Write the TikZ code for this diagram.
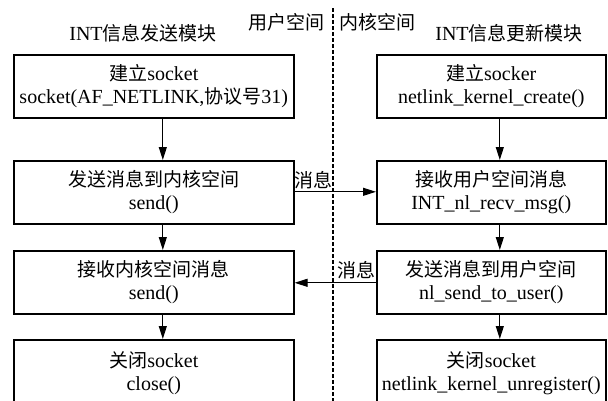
\documentclass[tikz,border=0pt]{standalone}
\usepackage{fontspec}
\setmainfont{Liberation Serif}
\newfontfamily\cjk[Scale=0.95]{Noto Sans CJK SC}
\usetikzlibrary{arrows.meta}

\tikzset{
  stepbox/.style={draw, line width=1.6pt, rectangle, inner sep=0pt,
    minimum height=63pt, align=center, anchor=north west},
  leftbox/.style={stepbox, minimum width=280pt},
  rightbox/.style={stepbox, minimum width=229pt},
  flow/.style={line width=1.1pt, -{Triangle[length=13pt,width=8pt]}},
  caption/.style={inner sep=0pt},
}

\begin{document}
\begin{tikzpicture}[x=1pt, y=1pt, font=\fontsize{20}{23}\selectfont]
  \useasboundingbox (0,0) rectangle (608,-400);
  \clip (0,0) rectangle (608,-400);

  % column titles
  \node[caption] (ltitle) at (143,-33) {INT{\cjk 信息发送模块}};
  \node[caption] (rtitle) at (509,-33) {INT{\cjk 信息更新模块}};
  \node[caption] (user)   at (286.5,-22) {\cjk 用户空间};
  \node[caption] (kernel) at (377.5,-22) {\cjk 内核空间};

  % boundary between user space and kernel space
  \coordinate (divtop) at (333,-8);
  \coordinate (divbot) at (333,-402);
  \draw[line width=1.2pt, dash pattern=on 3.5pt off 2.5pt] (divtop) -- (divbot);

  % user-space side
  \node[leftbox] (l1) at (13,-54) {{\cjk 建立}socket\\socket(AF\_NETLINK,{\cjk 协议号}31)};
  \node[leftbox] (l2) at (13,-160) {{\cjk 发送消息到内核空间}\\send()};
  \node[leftbox] (l3) at (13,-250) {{\cjk 接收内核空间消息}\\send()};
  \node[leftbox, minimum height=66pt] (l4) at (13,-339) {{\cjk 关闭}socket\\close()};

  % kernel side
  \node[rightbox] (r1) at (376,-54) {{\cjk 建立}socker\\netlink\_kernel\_create()};
  \node[rightbox] (r2) at (376,-160) {{\cjk 接收用户空间消息}\\INT\_nl\_recv\_msg()};
  \node[rightbox] (r3) at (376,-250) {{\cjk 发送消息到用户空间}\\nl\_send\_to\_user()};
  \node[rightbox, minimum height=66pt] (r4) at (376,-339) {{\cjk 关闭}socket\\netlink\_kernel\_unregister()};

  % sequence within each module
  \foreach \a/\b in {l1/l2, l2/l3, l3/l4}
    \draw[flow] ([xshift=9pt]\a.south) -- ([xshift=9pt]\b.north);
  \foreach \a/\b in {r1/r2, r2/r3, r3/r4}
    \draw[flow] ([xshift=8.5pt]\a.south) -- ([xshift=8.5pt]\b.north);

  % messages across the boundary
  \draw[flow] ([yshift=0.5pt]l2.east) -- ([yshift=0.5pt]r2.west);
  \node[caption, anchor=south west] (m1) at ([yshift=3pt]l2.east) {\cjk 消息};
  \draw[flow] ([yshift=-0.5pt]r3.west) -- ([yshift=-0.5pt]l3.east);
  \node[caption, anchor=south east] (m2) at ([yshift=3pt]r3.west) {\cjk 消息};
\end{tikzpicture}
\end{document}
